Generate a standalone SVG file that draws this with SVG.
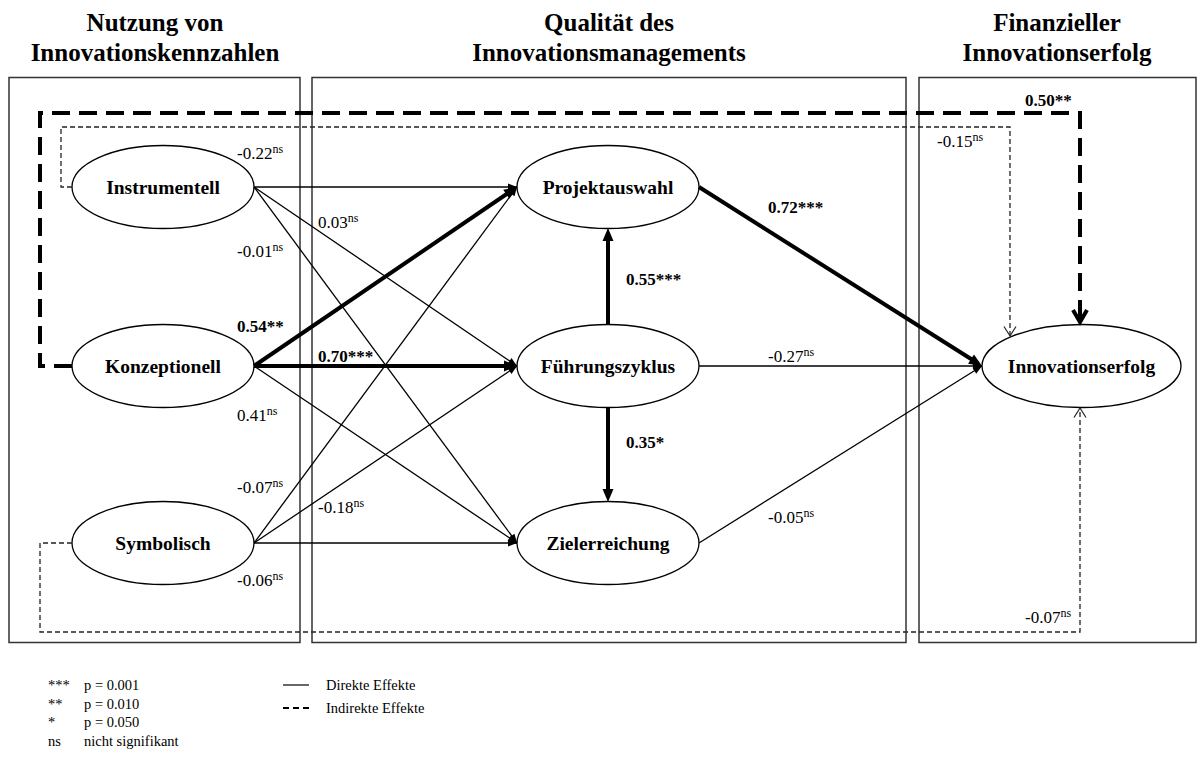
<svg xmlns="http://www.w3.org/2000/svg" width="1203" height="758" viewBox="0 0 1203 758">
<style>
.bg{fill:#fff}
.box{fill:none;stroke:#333;stroke-width:1.5}
.hdr{font-family:"Liberation Serif","Times New Roman",serif;font-weight:bold;font-size:25px;text-anchor:middle;fill:#000}
.node ellipse{fill:#fff;stroke:#000;stroke-width:1.3}
.node text{font-family:"Liberation Serif","Times New Roman",serif;font-weight:bold;font-size:19.5px;text-anchor:middle;fill:#000}
.d{fill:none;stroke:#000;stroke-width:1.3;marker-end:url(#ah)}
.dt{fill:none;stroke:#000;stroke-width:4;marker-end:url(#aht)}
.ind{fill:none;stroke:#000;stroke-width:4;stroke-dasharray:18 9;marker-end:url(#vthick)}
.ind2{fill:none;stroke:#222;stroke-width:1.3;stroke-dasharray:5 3;marker-end:url(#vthin)}
.lbl{font-family:"Liberation Serif","Times New Roman",serif;font-size:17px;fill:#000}
.b{font-weight:bold}
.sup{font-size:12px}
.leg{font-family:"Liberation Serif","Times New Roman",serif;font-size:14.5px;fill:#000}
</style>
<defs>
<marker id="ah" markerUnits="userSpaceOnUse" markerWidth="9" markerHeight="7" refX="9" refY="3.5" orient="auto" overflow="visible"><path d="M0,0 L9,3.5 L0,7 z" fill="#000"/></marker>
<marker id="aht" markerUnits="userSpaceOnUse" markerWidth="13" markerHeight="11" refX="8" refY="5.5" orient="auto" overflow="visible"><path d="M0,0 L13,5.5 L0,11 z" fill="#000"/></marker>
<marker id="vthin" markerUnits="userSpaceOnUse" markerWidth="12" markerHeight="14" refX="10" refY="7" orient="auto" overflow="visible"><path d="M0.5,1 L10,7 L0.5,13" fill="none" stroke="#222" stroke-width="1.2"/></marker>
<marker id="vthick" markerUnits="userSpaceOnUse" markerWidth="16" markerHeight="18" refX="13" refY="8" orient="auto" overflow="visible"><path d="M1,1 L13,8 L1,15" fill="none" stroke="#000" stroke-width="4"/></marker>
</defs>
<rect class="bg" x="0" y="0" width="1203" height="758"/>

<g id="headers">
<text class="hdr" x="155" y="31">Nutzung von</text>
<text class="hdr" x="155" y="61">Innovationskennzahlen</text>
<text class="hdr" x="609" y="31">Qualität des</text>
<text class="hdr" x="609" y="61">Innovationsmanagements</text>
<text class="hdr" x="1057" y="31">Finanzieller</text>
<text class="hdr" x="1057" y="61">Innovationserfolg</text>
</g>

<g id="panels">
<rect class="box" x="9" y="77.5" width="291" height="565"/>
<rect class="box" x="312" y="77.5" width="594" height="565"/>
<rect class="box" x="919" y="77.5" width="277" height="565"/>
</g>

<g id="n-instrumentell" class="node"><ellipse cx="163" cy="187" rx="91" ry="41.5"/><text x="163" y="194">Instrumentell</text></g>
<g id="n-konzeptionell" class="node"><ellipse cx="163" cy="366" rx="91" ry="41.5"/><text x="163" y="373">Konzeptionell</text></g>
<g id="n-symbolisch" class="node"><ellipse cx="163" cy="543" rx="91" ry="41.5"/><text x="163" y="550">Symbolisch</text></g>
<g id="n-projektauswahl" class="node"><ellipse cx="608" cy="187" rx="91" ry="41.5"/><text x="608" y="194">Projektauswahl</text></g>
<g id="n-fuehrungszyklus" class="node"><ellipse cx="608" cy="366" rx="91" ry="41.5"/><text x="608" y="373">Führungszyklus</text></g>
<g id="n-zielerreichung" class="node"><ellipse cx="608" cy="543" rx="91" ry="41.5"/><text x="608" y="550">Zielerreichung</text></g>
<g id="n-innovationserfolg" class="node"><ellipse cx="1081.5" cy="366" rx="99.5" ry="41.5"/><text x="1081.5" y="373">Innovationserfolg</text></g>

<g id="connectors">
<path class="d" d="M254,187 L517,187"/>
<path class="d" d="M254,187 L517,366"/>
<path class="d" d="M254,187 L517,543"/>
<path class="dt" d="M254,366 L512.9,189.8"/>
<path class="dt" d="M254,366 L512,366"/>
<path class="d" d="M254,366 L517,543"/>
<path class="d" d="M254,543 L517,187"/>
<path class="d" d="M254,543 L517,366"/>
<path class="d" d="M254,543 L517,543"/>
<path class="dt" d="M608,324.5 L608,233"/>
<path class="dt" d="M608,407.5 L608,497"/>
<path class="dt" d="M699,187 L977.8,363.3"/>
<path class="d" d="M699,366 L982,366"/>
<path class="d" d="M699,543 L982,366"/>
<path class="ind" d="M72,366 H40 V113 H1080 V322"/>
<path class="ind2" d="M72,187 H61 V127 H1010 V336"/>
<path class="ind2" d="M72,543 H40 V632 H1080 V408"/>
</g>

<g id="labels">
<text class="lbl" x="237" y="159">-0.22<tspan class="sup" dy="-6">ns</tspan></text>
<text class="lbl" x="237" y="257">-0.01<tspan class="sup" dy="-6">ns</tspan></text>
<text class="lbl" x="318" y="228">0.03<tspan class="sup" dy="-6">ns</tspan></text>
<text class="lbl b" x="237" y="332">0.54**</text>
<text class="lbl b" x="318" y="362">0.70***</text>
<text class="lbl" x="237" y="421">0.41<tspan class="sup" dy="-6">ns</tspan></text>
<text class="lbl" x="237" y="493">-0.07<tspan class="sup" dy="-6">ns</tspan></text>
<text class="lbl" x="318" y="513">-0.18<tspan class="sup" dy="-6">ns</tspan></text>
<text class="lbl" x="237" y="586">-0.06<tspan class="sup" dy="-6">ns</tspan></text>
<text class="lbl b" x="768" y="213">0.72***</text>
<text class="lbl b" x="626" y="285">0.55***</text>
<text class="lbl" x="768" y="362">-0.27<tspan class="sup" dy="-6">ns</tspan></text>
<text class="lbl b" x="626" y="448">0.35*</text>
<text class="lbl" x="768" y="523">-0.05<tspan class="sup" dy="-6">ns</tspan></text>
<text class="lbl b" x="1025" y="106">0.50**</text>
<text class="lbl" x="937" y="147">-0.15<tspan class="sup" dy="-6">ns</tspan></text>
<text class="lbl" x="1025" y="623">-0.07<tspan class="sup" dy="-6">ns</tspan></text>
</g>

<g id="legend">
<text class="leg" x="48" y="690">***</text><text class="leg" x="84" y="690">p = 0.001</text>
<text class="leg" x="48" y="708.5">**</text><text class="leg" x="84" y="708.5">p = 0.010</text>
<text class="leg" x="48" y="727">*</text><text class="leg" x="84" y="727">p = 0.050</text>
<text class="leg" x="48" y="745.5">ns</text><text class="leg" x="84" y="745.5">nicht signifikant</text>
<line x1="283" y1="685" x2="309" y2="685" stroke="#000" stroke-width="1.2"/>
<text class="leg" x="326" y="690">Direkte Effekte</text>
<line x1="283" y1="708" x2="309" y2="708" stroke="#000" stroke-width="2" stroke-dasharray="6 4"/>
<text class="leg" x="326" y="713">Indirekte Effekte</text>
</g>
</svg>
